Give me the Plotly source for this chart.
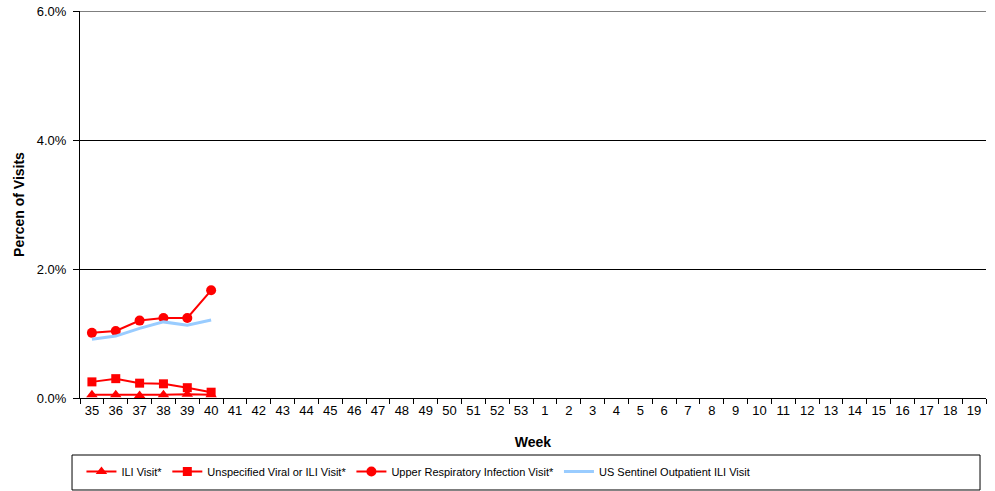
import plotly.graph_objects as go

weeks = [str(w) for w in list(range(35, 54)) + list(range(1, 20))]
data_weeks = ["35", "36", "37", "38", "39", "40"]
ili_visit = [0.0005, 0.0005, 0.0004, 0.0005, 0.0006, 0.0005]
unspecified = [0.0025, 0.0030, 0.0023, 0.0022, 0.0016, 0.0009]
upper_resp = [0.0101, 0.0104, 0.0120, 0.0124, 0.0124, 0.0167]
sentinel = [0.0091, 0.0096, 0.0108, 0.0118, 0.0113, 0.0121]
y_ticks = [0, 0.02, 0.04, 0.06]

RED = "#FF0000"

fig = go.Figure()
fig.add_trace(go.Scatter(x=data_weeks, y=ili_visit, mode="lines+markers",
                         name="ILI Visit*",
                         line=dict(color=RED, width=2),
                         marker=dict(symbol="triangle-up", size=10, color=RED)))
fig.add_trace(go.Scatter(x=data_weeks, y=unspecified, mode="lines+markers",
                         name="Unspecified Viral or ILI Visit*",
                         line=dict(color=RED, width=2),
                         marker=dict(symbol="square", size=9, color=RED)))
fig.add_trace(go.Scatter(x=data_weeks, y=upper_resp, mode="lines+markers",
                         name="Upper Respiratory Infection Visit*",
                         line=dict(color=RED, width=2),
                         marker=dict(symbol="circle", size=10, color=RED)))
fig.add_trace(go.Scatter(x=data_weeks, y=sentinel, mode="lines",
                         name="US Sentinel Outpatient ILI Visit",
                         line=dict(color="#99CCFF", width=3)))

# top gridline (at the upper end of the value axis)
fig.add_shape(type="line", xref="paper", yref="y", x0=0, x1=1,
              y0=y_ticks[-1], y1=y_ticks[-1], line=dict(color="black", width=1))

fig.add_shape(type="rect", xref="paper", yref="paper",
              x0=-0.0088, x1=0.9934, y0=-0.2377, y1=-0.1473,
              line=dict(color="black", width=1), fillcolor="rgba(0,0,0,0)")

fig.update_layout(
    width=995, height=491,
    margin=dict(l=80, r=9, t=11, b=93, autoexpand=False),
    paper_bgcolor="white", plot_bgcolor="white",
    font=dict(family="Liberation Sans, Arial, sans-serif", size=13, color="black"),
    showlegend=True,
    legend=dict(orientation="h", x=0.0016, y=-0.1526, xanchor="left", yanchor="top",
                font=dict(family="Liberation Sans, Arial, sans-serif", size=11),
                bgcolor="rgba(0,0,0,0)", itemwidth=30, tracegroupgap=0),
    xaxis=dict(type="category", categoryorder="array", categoryarray=weeks,
               range=[-0.5, len(weeks) - 0.5], automargin=False,
               showline=True, linecolor="black", linewidth=1,
               ticks="outside", tickson="boundaries", ticklen=5, tickcolor="black",
               showgrid=False, tickfont=dict(size=13),
               title=dict(text="<b>Week</b>", font=dict(size=14), standoff=20)),
    yaxis=dict(range=[0, 0.06], tickvals=y_ticks, tickformat=".1%", automargin=False,
               ticklabeloverflow="allow",
               showline=True, linecolor="black", linewidth=1,
               ticks="outside", ticklen=6, tickcolor="black", ticklabelstandoff=4,
               showgrid=True, gridcolor="black", gridwidth=1, zeroline=False,
               tickfont=dict(size=13),
               title=dict(text="<b>Percen of Visits</b>", font=dict(size=14), standoff=8)),
)

fig.write_html("out.html", config={"displayModeBar": False},
               post_script="document.body.style.margin='0';document.body.style.overflow='hidden';")
